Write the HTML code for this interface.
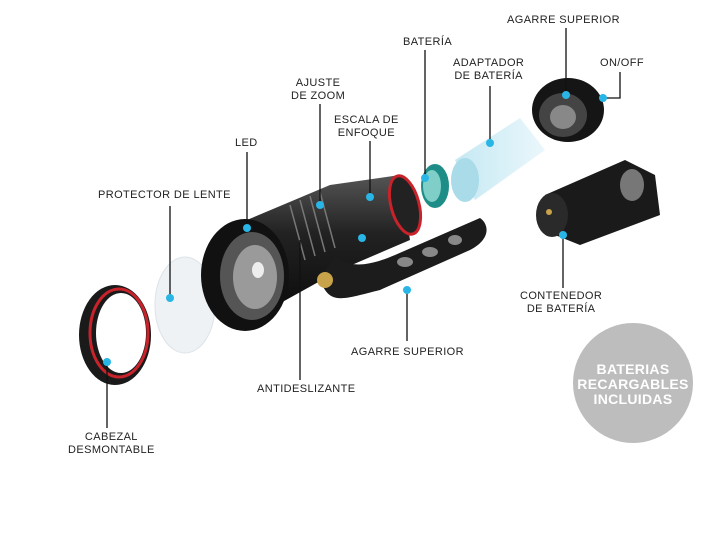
<!DOCTYPE html>
<html><head><meta charset="utf-8"><style>
html,body{margin:0;padding:0;background:#fff;}
body{width:720px;height:540px;position:relative;overflow:hidden;font-family:"Liberation Sans",sans-serif;}
.t{position:absolute;font-size:11px;color:#222;letter-spacing:0.4px;text-align:center;line-height:13px;white-space:nowrap;}
svg{position:absolute;left:0;top:0;}
</style></head><body>
<svg width="720" height="540" viewBox="0 0 720 540">
<defs>
<linearGradient id="bd" x1="0" y1="0" x2="0" y2="1"><stop offset="0" stop-color="#555"/><stop offset="0.4" stop-color="#222"/><stop offset="1" stop-color="#0a0a0a"/></linearGradient>
<linearGradient id="ad" x1="0" y1="0" x2="1" y2="0"><stop offset="0" stop-color="#bfe6f2"/><stop offset="1" stop-color="#e8f6fb"/></linearGradient>
</defs>
<ellipse cx="185" cy="305" rx="30" ry="48" fill="#eef2f5" stroke="#dde3e8"/>
<ellipse cx="115" cy="335" rx="36" ry="50" fill="#1a1a1a"/>
<ellipse cx="119" cy="333" rx="29" ry="44" fill="none" stroke="#c8232a" stroke-width="3"/>
<ellipse cx="121" cy="333" rx="25" ry="40" fill="#fff"/>
<polygon points="235,225 330,185 400,175 410,240 340,270 250,320" fill="url(#bd)"/>
<ellipse cx="405" cy="205" rx="14" ry="30" fill="#222" stroke="#c8232a" stroke-width="3" transform="rotate(-15 405 205)"/>
<g stroke="#777" stroke-width="1.5">
<line x1="290" y1="205" x2="305" y2="260"/><line x1="300" y1="200" x2="315" y2="256"/><line x1="310" y1="196" x2="325" y2="252"/><line x1="320" y1="192" x2="335" y2="248"/>
</g>
<ellipse cx="245" cy="275" rx="44" ry="56" fill="#111"/>
<ellipse cx="252" cy="276" rx="32" ry="44" fill="#555"/>
<ellipse cx="255" cy="277" rx="22" ry="32" fill="#9a9a9a"/>
<ellipse cx="258" cy="270" rx="6" ry="8" fill="#eee"/>
<path d="M320,280 C330,305 340,300 380,290 L470,250 C490,240 490,225 480,218 L395,255 C360,270 345,265 335,255 Z" fill="#1c1c1c"/>
<g fill="#888"><ellipse cx="405" cy="262" rx="8" ry="5"/><ellipse cx="430" cy="252" rx="8" ry="5"/><ellipse cx="455" cy="240" rx="7" ry="5"/></g>
<circle cx="325" cy="280" r="8" fill="#c9a34a"/>
<ellipse cx="435" cy="186" rx="14" ry="22" fill="#1f8d87"/>
<ellipse cx="432" cy="186" rx="9" ry="16" fill="#7fcfc8"/>
<polygon points="455,160 520,118 545,150 475,200" fill="url(#ad)" opacity="0.9"/>
<ellipse cx="465" cy="180" rx="14" ry="22" fill="#a9dbe8"/>
<ellipse cx="568" cy="110" rx="36" ry="32" fill="#151515"/>
<ellipse cx="563" cy="115" rx="24" ry="22" fill="#444"/>
<ellipse cx="563" cy="117" rx="13" ry="12" fill="#888"/>
<polygon points="545,195 625,160 655,175 660,215 580,245 555,235" fill="#1a1a1a"/>
<ellipse cx="552" cy="215" rx="16" ry="22" fill="#2a2a2a"/>
<ellipse cx="632" cy="185" rx="12" ry="16" fill="#777"/>
<circle cx="549" cy="212" r="3" fill="#c9a34a"/>
<circle cx="633" cy="383" r="60" fill="#bdbdbd"/>
<g stroke="#111" stroke-width="1.3" fill="none">
<line x1="247" y1="152" x2="247" y2="228"/>
<line x1="170" y1="206" x2="170" y2="298"/>
<line x1="320" y1="104" x2="320" y2="205"/>
<line x1="370" y1="141" x2="370" y2="197"/>
<line x1="425" y1="50" x2="425" y2="178"/>
<line x1="490" y1="86" x2="490" y2="143"/>
<line x1="566" y1="28" x2="566" y2="95"/>
<polyline points="620,72 620,98 603,98"/>
<line x1="563" y1="235" x2="563" y2="288"/>
<line x1="407" y1="290" x2="407" y2="341"/>
<line x1="300" y1="240" x2="300" y2="380"/>
<line x1="107" y1="365" x2="107" y2="428"/>
</g>
<g fill="#29b6e6">
<circle cx="247" cy="228" r="4"/><circle cx="170" cy="298" r="4"/><circle cx="320" cy="205" r="4"/><circle cx="370" cy="197" r="4"/><circle cx="425" cy="178" r="4"/><circle cx="490" cy="143" r="4"/><circle cx="566" cy="95" r="4"/><circle cx="603" cy="98" r="4"/><circle cx="563" cy="235" r="4"/><circle cx="407" cy="290" r="4"/><circle cx="362" cy="238" r="4"/><circle cx="107" cy="362" r="4"/>
</g>
</svg>
<div class="t" style="left:507px;top:14px;">AGARRE SUPERIOR</div>
<div class="t" style="left:403px;top:36px;">BATERÍA</div>
<div class="t" style="left:600px;top:57px;">ON/OFF</div>
<div class="t" style="left:453px;top:57px;">ADAPTADOR<br>DE BATERÍA</div>
<div class="t" style="left:291px;top:77px;">AJUSTE<br>DE ZOOM</div>
<div class="t" style="left:334px;top:114px;">ESCALA DE<br>ENFOQUE</div>
<div class="t" style="left:235px;top:137px;">LED</div>
<div class="t" style="left:98px;top:189px;">PROTECTOR DE LENTE</div>
<div class="t" style="left:520px;top:290px;">CONTENEDOR<br>DE BATERÍA</div>
<div class="t" style="left:351px;top:346px;">AGARRE SUPERIOR</div>
<div class="t" style="left:257px;top:383px;">ANTIDESLIZANTE</div>
<div class="t" style="left:68px;top:431px;">CABEZAL<br>DESMONTABLE</div>
<div class="t" style="left:573px;top:362px;width:120px;color:#fff;font-weight:bold;font-size:14px;line-height:15px;letter-spacing:0.3px;">BATERIAS<br>RECARGABLES<br>INCLUIDAS</div>
</body></html>
